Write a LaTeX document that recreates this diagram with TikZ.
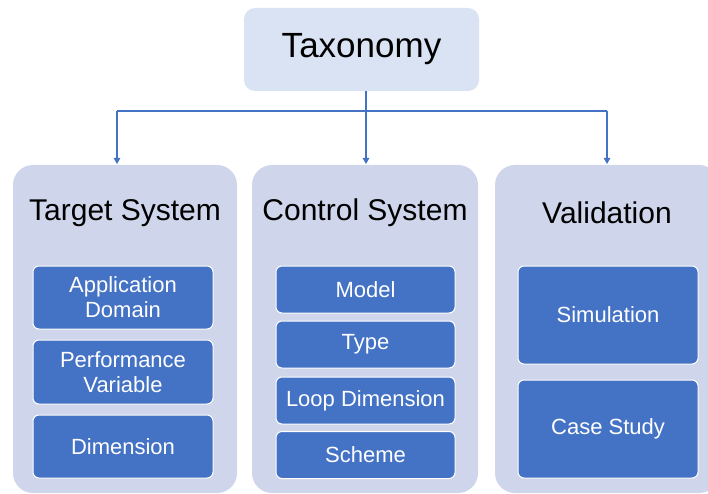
\documentclass[tikz,border=0pt]{standalone}
\usepackage{fontspec}
\setmainfont{Liberation Sans}
\usetikzlibrary{arrows.meta}
\definecolor{topfill}{HTML}{DAE3F3}
\definecolor{panelfill}{HTML}{CFD5EA}
\definecolor{itemfill}{HTML}{4472C4}
\definecolor{linec}{HTML}{4472C4}
\tikzset{
  topbox/.style={fill=topfill, rounded corners=11pt, minimum width=235pt, minimum height=83pt, inner sep=0pt, font=\fontsize{35}{40}\selectfont},
  panel/.style={fill=panelfill, rounded corners=20pt, minimum height=328pt, inner sep=0pt},
  ptitle/.style={font=\fontsize{30}{35}\selectfont, inner sep=0pt},
  item/.style={fill=itemfill, draw=white, line width=1pt, rounded corners=6pt, text=white, align=center, inner sep=0pt, minimum width=180pt, font=\fontsize{22}{25}\selectfont},
  conn/.style={draw=linec, line width=1.1pt},
  arr/.style={conn, -{Triangle[width=6.5pt,length=6pt]}}
}
\begin{document}
\begin{tikzpicture}[x=1pt,y=-1pt]
\useasboundingbox (0,0) rectangle (708,494);
\clip (0,0) rectangle (708,494);
\node[topbox] (top) at (361.5,49.5) {Taxonomy};
\node[panel, minimum width=224pt] (leftp) at (125,329) {};
\node[panel, minimum width=226pt] (midp) at (365,329) {};
\node[panel, minimum width=224pt] (rightp) at (607,329) {};
\node[ptitle] (lt) at (125,213) {Target System};
\node[ptitle] (mt) at (365,213) {Control System};
\node[ptitle] (rt) at (607,213) {Validation};
% left items
\node[item, minimum height=63pt] (a1) at (123,297.5) {Application\\Domain};
\node[item, minimum height=64pt] (a2) at (123,372) {Performance\\Variable};
\node[item, minimum height=63pt] (a3) at (123,446.5) {Dimension};
% middle items
\node[item, minimum width=179pt, minimum height=47pt] (b1) at (365.5,289.5) {Model};
\node[item, minimum width=179pt, minimum height=47pt] (b2) at (365.5,344.5) {Type};
\node[item, minimum width=179pt, minimum height=47pt] (b3) at (365.5,400.5) {Loop Dimension};
\node[item, minimum width=179pt, minimum height=47pt] (b4) at (365.5,455) {Scheme};
% right items
\node[item, minimum height=98pt] (c1) at (608,315) {Simulation};
\node[item, minimum height=98pt] (c2) at (608,429) {Case Study};
% connectors
\coordinate (hl) at (117,111);
\coordinate (hr) at (607,111);
\draw[conn] (hl) -- (hr);
\draw[arr] (top.south -| 366,0) -- (366,164);
\draw[arr] (hl) -- (hl |- 0,164);
\draw[arr] (hr) -- (hr |- 0,164);
\end{tikzpicture}
\end{document}
